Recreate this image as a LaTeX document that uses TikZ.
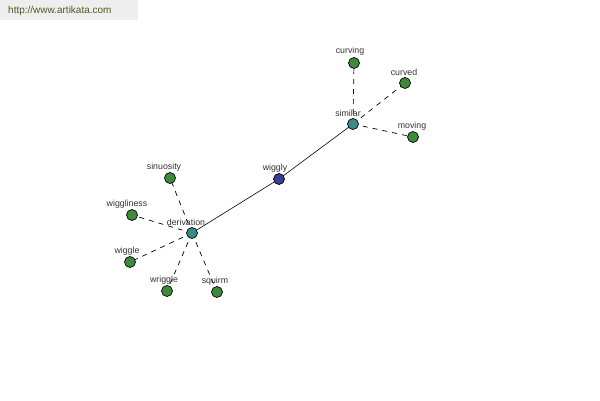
\documentclass[tikz,border=0pt]{standalone}
\usepackage{fontspec}
\setmainfont{Liberation Sans}
\definecolor{dotgreen}{HTML}{3F8A3A}
\definecolor{dotteal}{HTML}{3A8A8C}
\definecolor{dotblue}{HTML}{3A3F96}
\definecolor{lbl}{HTML}{333333}
\definecolor{hdr}{HTML}{EEEEEE}
\definecolor{hdrtext}{HTML}{4A5A22}
\begin{document}
\begin{tikzpicture}[x=1pt,y=-1pt,
  dot/.style={circle,draw=black,line width=0.7pt,minimum size=11pt,inner sep=0pt},
  leaf/.style={dot,fill=dotgreen},
  hub/.style={dot,fill=dotteal},
  root/.style={dot,fill=dotblue},
  wlabel/.style={font=\fontsize{8.8}{9}\selectfont,text=lbl,inner sep=0pt},
  solidedge/.style={draw=black,line width=0.6pt},
  dashedge/.style={draw=black,line width=0.7pt,dashed,dash pattern=on 5pt off 5pt}]
\useasboundingbox (0,0) rectangle (600,400);
\fill[hdr] (0,0) rectangle (138,20);
\node[anchor=west,inner sep=0pt,text=hdrtext,font=\fontsize{10}{11}\selectfont] (hdrlbl) at (8,11) {http://www.artikata.com};
% nodes
\coordinate (pwiggly) at (279,179);
\coordinate (psimilar) at (353,124);
\coordinate (pcurving) at (354,63);
\coordinate (pcurved) at (405,83);
\coordinate (pmoving) at (413,137);
\coordinate (pderivation) at (192,233);
\coordinate (psinuosity) at (170,178);
\coordinate (pwiggliness) at (132,215);
\coordinate (pwiggle) at (130,262);
\coordinate (pwriggle) at (167,291);
\coordinate (psquirm) at (217,292);
% edges
\draw[solidedge] (pwiggly) -- (psimilar);
\draw[solidedge] (pwiggly) -- (pderivation);
\foreach \t in {curving,curved,moving}
  \draw[dashedge] (psimilar) -- (p\t);
\foreach \t in {sinuosity,wiggliness,wiggle,wriggle,squirm}
  \draw[dashedge] (pderivation) -- (p\t);
% dots
\node[root] (wiggly) at (pwiggly) {};
\node[hub] (similar) at (psimilar) {};
\node[hub] (derivation) at (pderivation) {};
\foreach \t in {curving,curved,moving,sinuosity,wiggliness,wiggle,wriggle,squirm}
  \node[leaf] (\t) at (p\t) {};
% labels
\node[wlabel] (lwiggly) at (275,168) {wiggly};
\node[wlabel] (lsimilar) at (348,113) {similar};
\node[wlabel] (lcurving) at (350,51) {curving};
\node[wlabel] (lcurved) at (404,72) {curved};
\node[wlabel] (lmoving) at (412,126) {moving};
\node[wlabel] (lderivation) at (186,222) {derivation};
\node[wlabel] (lsinuosity) at (164,167) {sinuosity};
\node[wlabel] (lwiggliness) at (127,204) {wiggliness};
\node[wlabel] (lwiggle) at (127,251) {wiggle};
\node[wlabel] (lwriggle) at (164,280) {wriggle};
\node[wlabel] (lsquirm) at (215,281) {squirm};
\end{tikzpicture}
\end{document}
